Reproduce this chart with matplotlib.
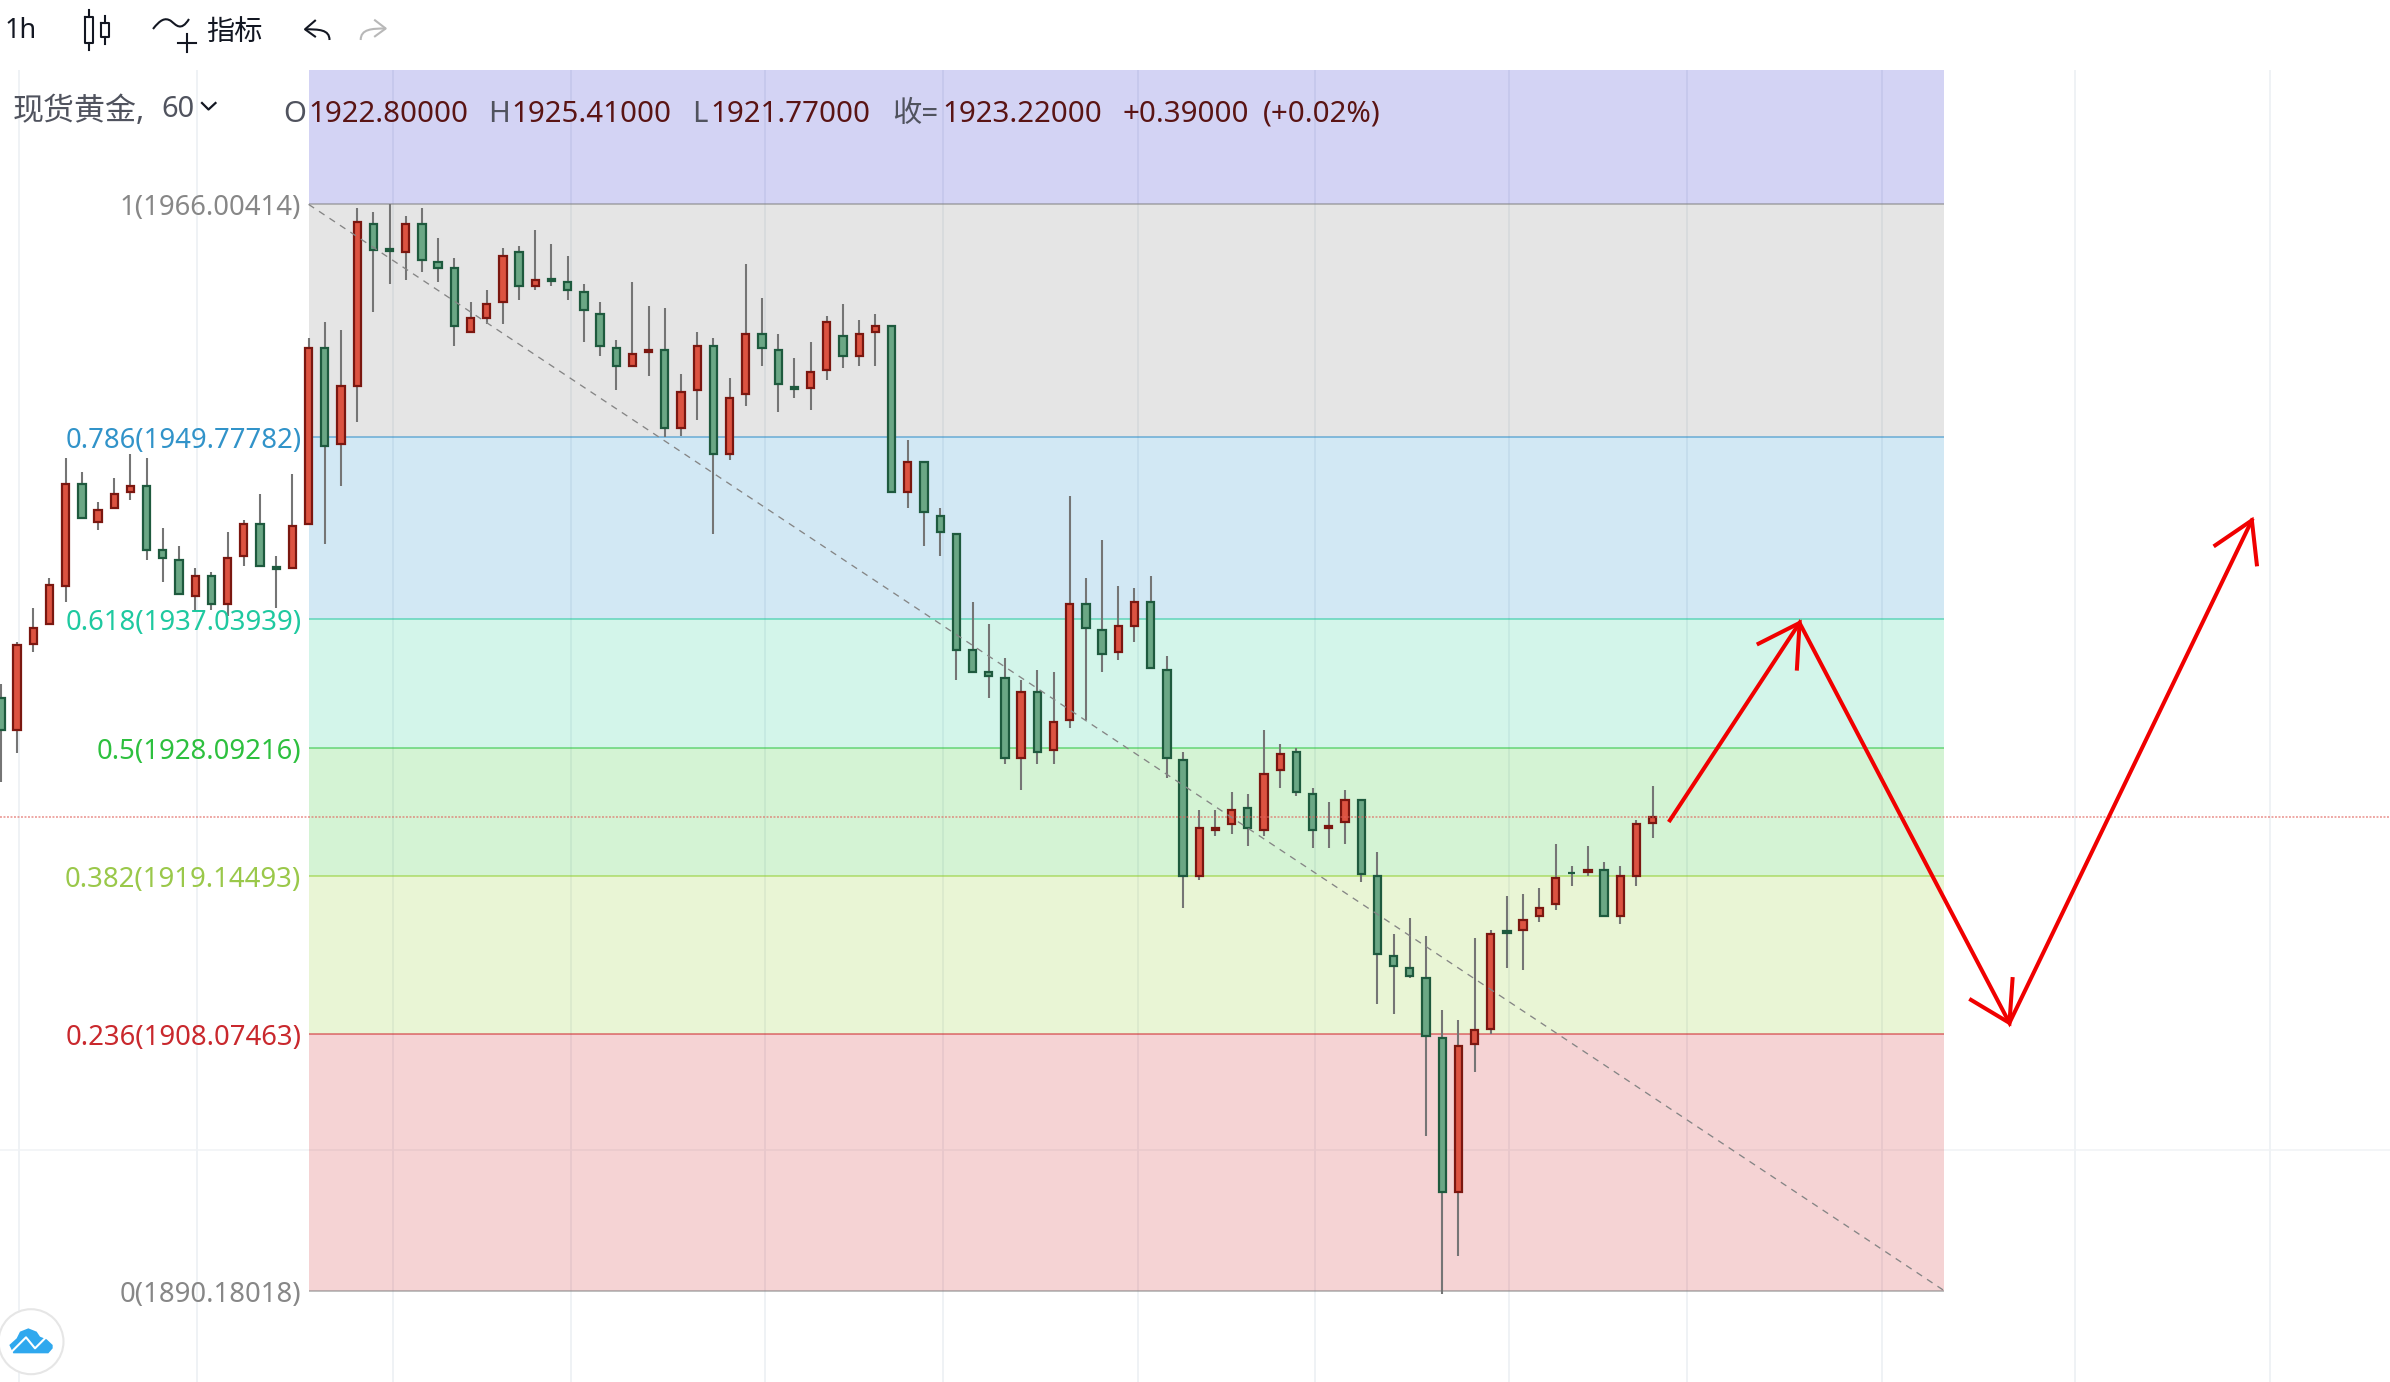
import matplotlib
matplotlib.use('Agg')
import matplotlib.pyplot as plt
from matplotlib.patches import Circle, PathPatch, Polygon
from matplotlib.path import Path

plt.rcParams['font.family'] = ['Noto Sans', 'Noto Sans CJK SC', 'DejaVu Sans']

# hourly candles
opens = [1931.56, 1929.31, 1935.31, 1936.71, 1939.34, 1946.50, 1943.81, 1944.81, 1945.90, 1946.36,
         1941.90, 1941.20, 1938.66, 1940.08, 1938.11, 1941.43, 1943.71, 1940.67, 1940.62, 1943.67,
         1956.00, 1949.27, 1953.32, 1964.65, 1962.87, 1962.68, 1964.65, 1962.00, 1961.58, 1957.09,
         1958.07, 1959.19, 1962.70, 1960.30, 1960.78, 1960.60, 1959.91, 1958.37, 1956.00, 1954.72,
         1955.70, 1955.86, 1950.39, 1953.04, 1956.14, 1948.56, 1952.74, 1956.97, 1955.86, 1953.25,
         1953.16, 1954.42, 1956.83, 1955.40, 1957.07, 1957.53, 1945.90, 1948.04, 1944.27, 1943.01,
         1934.91, 1933.38, 1932.96, 1927.33, 1931.98, 1927.89, 1929.99, 1938.13, 1936.31, 1934.73,
         1936.55, 1938.27, 1933.52, 1927.24, 1919.10, 1922.31, 1922.72, 1923.89, 1922.31, 1926.49,
         1927.79, 1924.86, 1922.45, 1922.86, 1924.44, 1919.14, 1913.55, 1912.71, 1912.02, 1907.83,
         1897.04, 1907.37, 1908.48, 1915.26, 1915.33, 1916.30, 1917.14, 1919.36, 1919.37, 1919.56,
         1916.30, 1919.10, 1922.80]
closes = [1929.31, 1935.22, 1936.45, 1939.41, 1946.50, 1944.11, 1944.69, 1945.80, 1946.36, 1941.85,
          1941.30, 1938.78, 1940.08, 1938.11, 1941.34, 1943.71, 1940.76, 1940.58, 1943.57, 1956.00,
          1949.13, 1953.34, 1964.79, 1962.82, 1962.78, 1964.65, 1962.10, 1961.56, 1957.51, 1958.09,
          1959.07, 1962.42, 1960.30, 1960.74, 1960.67, 1960.03, 1958.63, 1956.12, 1954.72, 1955.58,
          1955.86, 1950.39, 1952.93, 1956.14, 1948.56, 1952.51, 1956.97, 1955.95, 1953.44, 1953.11,
          1954.32, 1957.81, 1955.40, 1956.97, 1957.53, 1945.90, 1948.04, 1944.51, 1943.11, 1934.87,
          1933.34, 1933.06, 1927.33, 1931.98, 1927.75, 1929.89, 1938.13, 1936.41, 1934.59, 1936.59,
          1938.27, 1933.62, 1927.33, 1919.10, 1922.49, 1922.49, 1923.74, 1922.45, 1926.26, 1927.65,
          1924.96, 1922.31, 1922.63, 1924.44, 1919.24, 1913.65, 1912.81, 1912.12, 1907.93, 1897.04,
          1907.27, 1908.39, 1915.09, 1915.15, 1916.07, 1916.90, 1919.00, 1919.33, 1919.56, 1916.30,
          1919.14, 1922.77, 1923.22]
highs = [1932.50, 1935.43, 1937.80, 1939.90, 1948.28, 1947.30, 1945.20, 1946.88, 1948.56, 1948.28,
         1943.39, 1942.13, 1940.60, 1940.32, 1943.11, 1943.95, 1945.76, 1941.43, 1947.16, 1956.65,
         1957.77, 1957.21, 1965.73, 1965.45, 1966.01, 1965.17, 1965.73, 1963.63, 1962.24, 1959.17,
         1960.00, 1962.94, 1963.08, 1964.19, 1963.22, 1962.38, 1960.42, 1959.17, 1956.51, 1960.56,
         1958.89, 1958.75, 1954.14, 1957.07, 1956.65, 1953.86, 1961.82, 1959.45, 1956.93, 1955.26,
         1956.37, 1958.19, 1959.03, 1957.91, 1958.33, 1957.60, 1949.53, 1948.11, 1944.78, 1943.08,
         1938.22, 1936.69, 1934.31, 1932.78, 1933.48, 1933.34, 1945.62, 1939.90, 1942.55, 1939.34,
         1939.20, 1940.04, 1934.45, 1927.75, 1923.70, 1923.70, 1924.96, 1924.82, 1929.29, 1928.31,
         1928.03, 1925.24, 1924.26, 1925.10, 1924.51, 1920.77, 1915.05, 1916.16, 1914.91, 1909.74,
         1909.04, 1914.77, 1915.33, 1917.70, 1917.84, 1918.26, 1921.33, 1919.79, 1921.19, 1920.07,
         1919.79, 1923.00, 1925.41]
lows = [1925.70, 1927.68, 1934.77, 1936.64, 1938.27, 1944.04, 1943.29, 1944.74, 1945.39, 1941.20,
        1939.66, 1938.71, 1937.57, 1937.71, 1937.27, 1940.78, 1940.69, 1937.85, 1940.55, 1943.60,
        1942.31, 1946.36, 1950.83, 1958.51, 1960.46, 1960.74, 1961.30, 1960.60, 1956.14, 1957.02,
        1957.67, 1957.67, 1959.35, 1960.05, 1960.33, 1959.35, 1956.42, 1955.44, 1953.07, 1954.65,
        1954.04, 1949.76, 1949.85, 1950.97, 1943.01, 1948.18, 1951.95, 1954.74, 1951.53, 1952.51,
        1951.67, 1953.76, 1954.60, 1954.74, 1954.74, 1945.83, 1944.83, 1942.17, 1941.48, 1932.82,
        1933.27, 1931.56, 1926.96, 1925.14, 1926.96, 1926.96, 1929.47, 1930.03, 1933.38, 1934.22,
        1935.47, 1933.55, 1925.98, 1916.90, 1918.86, 1921.93, 1922.07, 1921.23, 1921.93, 1925.28,
        1924.72, 1921.09, 1921.09, 1921.37, 1918.72, 1910.20, 1909.50, 1912.04, 1900.99, 1889.96,
        1892.61, 1905.46, 1908.11, 1912.71, 1912.58, 1915.93, 1916.76, 1918.44, 1919.14, 1916.23,
        1915.79, 1918.44, 1921.77]

# fibonacci retracement
fib_ratios = ['1', '0.786', '0.618', '0.5', '0.382', '0.236', '0']
fib_prices = [1966.00414, 1949.77782, 1937.03939, 1928.09216, 1919.14493, 1908.07463, 1890.18018]
fib_top = 1975.39
fib_start = 19
fib_end = 120
fib_colors = ['#808080', '#2a8cc8', '#22c89a', '#2bc33c', '#91cd2d', '#cd2328', '#808080']
fib_text = ['#878787', '#3193c9', '#1fc9a0', '#2dc03e', '#9ac84a', '#c9282d', '#878787']
band_colors = ['#2323c8', '#808080', '#1e8cc8', '#23cd96', '#28c328', '#91cd2d', '#cd2328']

last_close = 1923.22
grid_x = [1.1, 12.1, 24.2, 35.2, 47.2, 58.2, 70.2, 81.15, 93.15, 104.1, 116.15, 128.1, 140.1]
grid_y = [1900]

# hand drawn arrows, as (candle index, price)
path_x = [103.06, 111.07, 124.03, 139.0]
path_y = [1923.01, 1936.79, 1908.87, 1943.95]
wing_x = [(108.43, 110.90), (121.55, 124.23), (136.64, 139.32)]
wing_y = [(1935.28, 1933.46), (1910.55, 1912.07), (1942.13, 1940.74)]

header = [('O', 283.5, '#50535e'), ('1922.80000', 308, '#5a1414'),
          ('H', 488, '#50535e'), ('1925.41000', 511, '#5a1414'),
          ('L', 692, '#50535e'), ('1921.77000', 710, '#5a1414'),
          ('收=', 892, '#50535e'), ('1923.22000', 942, '#5a1414'),
          ('+0.39000', 1123, '#5a1414'), ('(+0.02%)', 1263, '#5a1414')]

W, H = 2390, 1382
px_x = 16.194
fig = plt.figure(figsize=(W / 100, H / 100), dpi=100)
ax = fig.add_axes([0, 0, 1, 1])
ax.set_xlim(-0.9 / px_x, (W - 0.9) / px_x)
ax.set_ylim(1980.27 - 0.0698 * H, 1980.27)
ax.axis('off')

for x in grid_x:
    ax.axvline(x, color='#eef1f4', lw=1.3, zorder=1)
for y in grid_y:
    ax.axhline(y, color='#f0f2f5', lw=1.1, zorder=1)

# bands
edges = [fib_top] + fib_prices
for i in range(len(band_colors)):
    ax.fill_between([fib_start, fib_end], edges[i + 1], edges[i], color=band_colors[i],
                    alpha=0.2, lw=0, zorder=2)
for i in range(len(fib_prices)):
    ax.plot([fib_start, fib_end], [fib_prices[i]] * 2, color=fib_colors[i], alpha=0.55,
            lw=1.3, zorder=3, solid_capstyle='butt')
    # label sits a few pixels under its line
    ax.text(18.55, fib_prices[i] - 0.28, fib_ratios[i] + '(%.5f)' % fib_prices[i], color=fib_text[i],
            ha='right', va='center', fontsize=19.8, zorder=9)

# candles
xs = list(range(len(opens)))
ax.vlines(xs, lows, highs, color='#757575', lw=1.5, zorder=4)
for i in xs:
    up = closes[i] >= opens[i]
    ax.bar(i, abs(closes[i] - opens[i]), bottom=min(opens[i], closes[i]), width=0.45,
           color='#dc5341' if up else '#6ba785', edgecolor='#7b1710' if up else '#1e5a3e',
           lw=1.6, zorder=5)

ax.plot([fib_start, fib_end], [fib_prices[0], fib_prices[-1]], color='#858585', lw=0.95,
        ls=(0, (5, 4.5)), zorder=6)
ax.axhline(last_close, color='#e0605a', alpha=0.55, lw=1.4, ls=(0, (1, 0.8)), zorder=7)

ax.plot(path_x, path_y, color='#f00000', lw=2.9, zorder=8, solid_joinstyle='miter')
for k in range(3):
    tip = k + 1
    ax.plot([wing_x[k][0], path_x[tip], wing_x[k][1]], [wing_y[k][0], path_y[tip], wing_y[k][1]],
            color='#f00000', lw=2.9, zorder=8, solid_joinstyle='miter', solid_capstyle='butt')

# toolbar and legend, in pixels
ui = fig.add_axes([0, 0, 1, 1], zorder=5)
ui.set_xlim(0, W)
ui.set_ylim(H, 0)
ui.axis('off')
ui.patch.set_alpha(0)
ui.fill_between([0, W], 0, 70, color='white', lw=0)

ink = '#131722'
ui.text(5, 31, '1h', color=ink, fontsize=19.5, va='center')
ui.plot([89, 89], [10, 17], color=ink, lw=1.5)
ui.plot([89, 89], [43, 50], color=ink, lw=1.5)
ui.plot([85, 93, 93, 85, 85], [17, 17, 43, 43, 17], color=ink, lw=1.5)
ui.plot([105, 105], [16, 22.5], color=ink, lw=1.5)
ui.plot([105, 105], [37, 44], color=ink, lw=1.5)
ui.plot([101.3, 109.3, 109.3, 101.3, 101.3], [22.5, 22.5, 37, 37, 22.5], color=ink, lw=1.5)

wave = Path([(153, 29), (160, 20), (165, 17), (171, 21), (176, 25), (181, 32), (189, 19)],
            [Path.MOVETO, Path.CURVE4, Path.CURVE4, Path.CURVE4, Path.CURVE4, Path.CURVE4, Path.CURVE4])
ui.add_patch(PathPatch(wave, fill=False, edgecolor=ink, lw=1.5))
ui.plot([177.7, 195.7], [43.3, 43.3], color=ink, lw=1.5)
ui.plot([186.7, 186.7], [34.3, 52], color=ink, lw=1.5)
ui.text(206, 32, '指标', color=ink, fontsize=20.3, va='center')

undo = Path([(305, 29.3), (319, 29.3), (329.5, 29.5), (329.5, 40)],
            [Path.MOVETO, Path.CURVE4, Path.CURVE4, Path.CURVE4])
ui.add_patch(PathPatch(undo, fill=False, edgecolor=ink, lw=1.5))
ui.plot([315, 305, 315], [20.7, 29.3, 36.5], color=ink, lw=1.5)
redo = Path([(385.7, 28.5), (372, 28.5), (360.7, 29), (360.7, 40)],
            [Path.MOVETO, Path.CURVE4, Path.CURVE4, Path.CURVE4])
ui.add_patch(PathPatch(redo, fill=False, edgecolor='#b8b8b8', lw=1.5))
ui.plot([375, 385.7, 375], [20.3, 28.5, 36.3], color='#b8b8b8', lw=1.5)

ui.text(13, 112, '现货黄金,', color='#50535e', fontsize=22.3, va='center')
ui.text(161, 109, '60', color='#50535e', fontsize=20.8, va='center')
ui.plot([202, 208.5, 215.5], [103, 109.5, 103], color=ink, lw=1.6)
for label, x, col in header:
    ui.text(x, 114, label, color=col, fontsize=21.2, va='center')

# logo
ui.add_patch(Circle((31, 1341.7), 32.5, facecolor='white', edgecolor='#e6e6e6', lw=1.5))
cloud = [(28, 495), (50, 475), (60, 455), (85, 445), (110, 455), (120, 470), (140, 478),
         (158, 495), (158, 505), (145, 520), (40, 520)]
ui.add_patch(Polygon([(px / 3, 1180 + py / 3) for px, py in cloud], closed=True,
                     facecolor='#2fa8ee', edgecolor='none'))
ui.plot([35 / 3, 78 / 3, 105 / 3, 140 / 3],
        [1180 + 515 / 3, 1180 + 472 / 3, 1180 + 505 / 3, 1180 + 470 / 3], color='white', lw=1.5)

fig.savefig('out.png', dpi=100, facecolor='white')
